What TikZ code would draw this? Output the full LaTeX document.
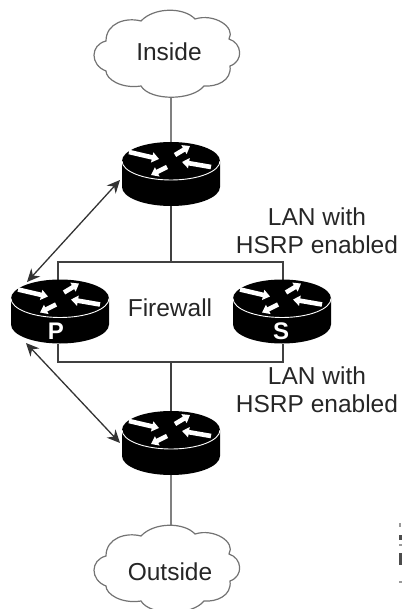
\documentclass[tikz,border=0pt]{standalone}
\usepackage{fontspec}
\setmainfont{Liberation Sans}
\usetikzlibrary{arrows.meta}
\tikzset{
  x=1pt,y=-1pt,
  routerbox/.style={minimum width=98pt,minimum height=64pt,inner sep=0pt,outer sep=0pt},
  cloudbox/.style={minimum width=145pt,minimum height=84pt,inner sep=0pt,outer sep=0pt},
  label/.style={font=\fontsize{24.5}{28}\selectfont,text=black!85,inner sep=0pt,align=center},
  badge/.style={font=\fontsize{24}{24}\selectfont\bfseries,text=white,inner sep=0pt},
  link/.style={line width=1.3pt,draw=black!75},
  graylink/.style={line width=1.5pt,draw=black!50},
  duplex/.style={line width=1.3pt,draw=black!80,{Stealth[length=13pt,width=12pt]}-{Stealth[length=13pt,width=12pt]}},
  arw/.style={draw=white,line width=4.6pt,-{Triangle[length=7pt,width=10pt]}},
  cloudline/.style={line width=1.2pt,draw=black!55,fill=white},
  iddark/.style={fill=black!70},
  idlight/.style={fill=black!40},
  pics/routericon/.style={code={
    \fill[black] (-49,-13) arc[start angle=180,end angle=360,x radius=49,y radius=19]
       -- (49,13) arc[start angle=0,end angle=180,x radius=49,y radius=19] -- cycle;
    \draw[white,line width=0.9pt] (-49,-13) arc[start angle=180,end angle=0,x radius=49,y radius=19];
    \draw[arw] (-42,-22) -- (-12,-15);
    \draw[arw] (4,-19) -- (19,-28);
    \draw[arw] (-4,-7) -- (-20,1);
    \draw[arw] (40,-7) -- (11,-12);
  }},
  pics/cloudicon/.style={code={
    \draw[cloudline] (-25,-32)
      .. controls (-12,-46) and (18,-46) .. (29,-34)
      .. controls (48,-40) and (70,-26) .. (63,-14)
      .. controls (76,-10) and (78,8) .. (64,13)
      .. controls (66,28) and (50,34) .. (38,33)
      .. controls (26,48) and (-16,48) .. (-25,33)
      .. controls (-45,36) and (-60,26) .. (-60,18)
      .. controls (-76,12) and (-76,-8) .. (-60,-12)
      .. controls (-60,-30) and (-40,-36) .. (-25,-32) -- cycle;
  }}
}
\begin{document}
\begin{tikzpicture}
\useasboundingbox (0,0) rectangle (403,609);
\node[routerbox] (top) at (171,174) {};
\node[routerbox] (prim) at (60,311.5) {};
\node[routerbox] (sec) at (282,311.5) {};
\node[routerbox] (bot) at (171,443) {};
\coordinate (upL) at (58,262);
\coordinate (upR) at (283,262);
\coordinate (upM) at (171,262);
\coordinate (loL) at (58,362);
\coordinate (loR) at (283,362);
\coordinate (loM) at (171,362);
\node[cloudbox] (inside) at (166,53) {};
\node[cloudbox] (outside) at (166,568) {};
\draw[graylink] (inside.south -| top.north) -- (top.north);
\draw[graylink] (bot.south) -- (outside.north -| bot.south);
\pic at (inside) {cloudicon};
\pic at (outside) {cloudicon};
\node[label] (tin) at (169,52) {Inside};
\node[label] (tout) at (170,572) {Outside};
\draw[link] (top.south) -- (upM);
\draw[link] (prim.north -| upL) -- (upL) -- (upR) -- (sec.north -| upR);
\draw[link] (prim.south -| loL) -- (loL) -- (loR) -- (sec.south -| loR);
\draw[link] (loM) -- (bot.north);
\pic at (top) {routericon};
\pic at (prim) {routericon};
\pic at (sec) {routericon};
\pic at (bot) {routericon};
\node[badge] (p) at (56,331) {P};
\node[badge] (s) at (281,331) {S};
\coordinate (a1) at (120,180);
\coordinate (a2) at (27,282);
\coordinate (b1) at (26,343);
\coordinate (b2) at (120,443);
\draw[duplex] (a1) -- (a2);
\draw[duplex] (b1) -- (b2);
\node[label] (fw) at (170,308) {Firewall};
\node[label] (lan1) at (317,231) {LAN with\\HSRP enabled};
\node[label] (lan2) at (317,390) {LAN with\\HSRP enabled};
\fill[iddark] (399,535) rectangle (402,540);
\fill[iddark] (399,553) rectangle (402,565);
\fill[idlight] (399,523) rectangle (401,527);
\fill[idlight] (399,544) rectangle (402,546);
\fill[idlight] (399,581) rectangle (402,583);
\end{tikzpicture}
\end{document}
